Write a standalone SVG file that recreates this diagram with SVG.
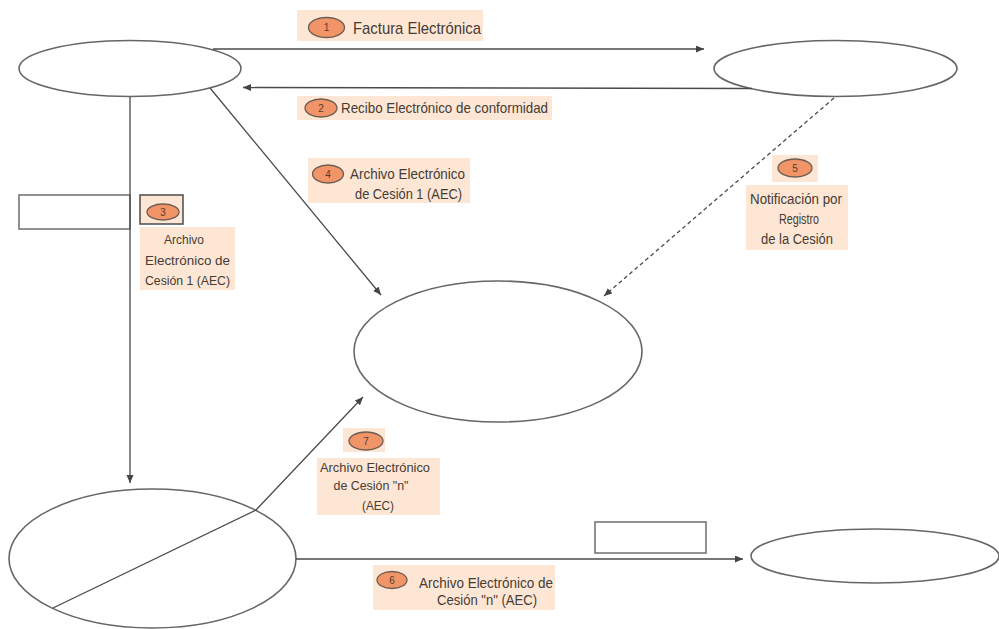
<svg xmlns="http://www.w3.org/2000/svg" width="999" height="629" viewBox="0 0 999 629">
  <defs>
    <marker id="arrow" markerUnits="userSpaceOnUse" markerWidth="9" markerHeight="8" refX="8" refY="3.5" orient="auto">
      <path d="M0,0 L8,3.5 L0,7 z" fill="#444"/>
    </marker>
    <style>
      .node { fill: #fff; stroke: #666; stroke-width: 1.6; }
      .box { fill: #fff; stroke: #777; stroke-width: 1.6; }
      .edge { fill: none; stroke: #4a4a4a; stroke-width: 1.3; marker-end: url(#arrow); }
      .dash { stroke-dasharray: 4 3; }
      .bg { fill: #fde6d4; }
      .badge { fill: #f19468; stroke: #6e5d52; stroke-width: 1.3; }
      .num { font-family: "Liberation Sans", Arial, sans-serif; font-size: 10px; fill: #5a3a2a; text-anchor: middle; }
      .lbl { font-family: "Liberation Sans Narrow", "Liberation Sans", Arial, sans-serif; fill: #453c35; }
      .mid { text-anchor: middle; }
    </style>
  </defs>
  <rect width="999" height="629" fill="#fff"/>

  <!-- participants -->
  <g id="node-a"><ellipse class="node" cx="130" cy="68.5" rx="111" ry="28"/></g>
  <g id="node-b"><ellipse class="node" cx="835.5" cy="68.5" rx="121.5" ry="28"/></g>
  <g id="node-c"><ellipse class="node" cx="498" cy="351.5" rx="144" ry="70.5"/></g>
  <g id="node-d"><ellipse class="node" cx="152.5" cy="558.5" rx="143.5" ry="69.5"/></g>
  <g id="node-e"><ellipse class="node" cx="875" cy="556" rx="124" ry="27"/></g>
  <g id="box-left"><rect class="box" x="19" y="195" width="111" height="34"/></g>
  <g id="box-bottom"><rect class="box" x="595" y="522" width="111" height="31"/></g>

  <!-- connectors -->
  <g id="connectors">
    <line class="edge" x1="213" y1="49" x2="704" y2="49"/>
    <line class="edge" x1="752" y1="88.5" x2="243" y2="87.5"/>
    <line class="edge" x1="130" y1="97" x2="130" y2="483"/>
    <line class="edge" x1="210" y1="88" x2="381" y2="295"/>
    <line class="edge dash" x1="834" y1="98" x2="604" y2="296"/>
    <line class="edge" x1="296" y1="559" x2="743" y2="559"/>
    <polyline class="edge" points="53,608 256,510 363,397"/>
  </g>

  <!-- step 1 -->
  <g id="label-1">
    <rect class="bg" x="297" y="10" width="186" height="31"/>
    <ellipse class="badge" cx="326.5" cy="27.5" rx="18" ry="10"/>
    <text class="num" x="326.5" y="31">1</text>
    <text class="lbl" x="353" y="34" font-size="17" textLength="128" lengthAdjust="spacingAndGlyphs">Factura Electrónica</text>
  </g>

  <!-- step 2 -->
  <g id="label-2">
    <rect class="bg" x="297" y="96" width="255" height="24"/>
    <ellipse class="badge" cx="321" cy="108" rx="16" ry="9"/>
    <text class="num" x="321" y="111.5">2</text>
    <text class="lbl" x="341" y="113" font-size="15" textLength="207" lengthAdjust="spacingAndGlyphs">Recibo Electrónico de conformidad</text>
  </g>

  <!-- step 3 -->
  <g id="label-3">
    <rect class="bg" x="140" y="195" width="43" height="29" stroke="#555" stroke-width="1.6"/>
    <ellipse class="badge" cx="163" cy="212" rx="16" ry="8" fill="#f47f5c"/>
    <text class="num" x="163" y="215.5">3</text>
    <rect class="bg" x="140" y="227" width="95" height="63"/>
    <text class="lbl mid" x="184" y="244" font-size="13" textLength="40" lengthAdjust="spacingAndGlyphs">Archivo</text>
    <text class="lbl mid" x="187.5" y="265" font-size="13" textLength="85" lengthAdjust="spacingAndGlyphs">Electrónico de</text>
    <text class="lbl mid" x="187.5" y="285" font-size="13" textLength="85" lengthAdjust="spacingAndGlyphs">Cesión 1 (AEC)</text>
  </g>

  <!-- step 4 -->
  <g id="label-4">
    <rect class="bg" x="308" y="158" width="162" height="45"/>
    <ellipse class="badge" cx="328" cy="174" rx="15.5" ry="9"/>
    <text class="num" x="328" y="177.5">4</text>
    <text class="lbl" x="350" y="179" font-size="14" textLength="115" lengthAdjust="spacingAndGlyphs">Archivo Electrónico</text>
    <text class="lbl" x="355" y="199" font-size="14" textLength="107" lengthAdjust="spacingAndGlyphs">de Cesión 1 (AEC)</text>
  </g>

  <!-- step 5 -->
  <g id="label-5">
    <rect class="bg" x="772" y="155" width="46" height="27"/>
    <ellipse class="badge" cx="795" cy="168" rx="17" ry="9"/>
    <text class="num" x="795" y="171.5">5</text>
    <rect class="bg" x="746" y="185" width="102" height="65"/>
    <text class="lbl mid" x="796" y="204" font-size="14" textLength="92" lengthAdjust="spacingAndGlyphs">Notificación por</text>
    <text class="lbl mid" x="799" y="224" font-size="14" textLength="40" lengthAdjust="spacingAndGlyphs">Registro</text>
    <text class="lbl mid" x="797" y="244" font-size="14" textLength="72" lengthAdjust="spacingAndGlyphs">de la Cesión</text>
  </g>

  <!-- step 6 -->
  <g id="label-6">
    <rect class="bg" x="373" y="565" width="182" height="45"/>
    <ellipse class="badge" cx="392" cy="580" rx="15" ry="8.5"/>
    <text class="num" x="392" y="583.5">6</text>
    <text class="lbl" x="419" y="588" font-size="14" textLength="134" lengthAdjust="spacingAndGlyphs">Archivo Electrónico de</text>
    <text class="lbl" x="437" y="605" font-size="14" textLength="100" lengthAdjust="spacingAndGlyphs">Cesión "n" (AEC)</text>
  </g>

  <!-- step 7 -->
  <g id="label-7">
    <rect class="bg" x="343" y="428" width="42" height="24"/>
    <ellipse class="badge" cx="366" cy="441" rx="17" ry="9"/>
    <text class="num" x="366" y="444.5">7</text>
    <rect class="bg" x="317" y="458" width="123" height="57"/>
    <text class="lbl mid" x="375" y="472" font-size="13" textLength="110" lengthAdjust="spacingAndGlyphs">Archivo Electrónico</text>
    <text class="lbl mid" x="371" y="490" font-size="13" textLength="75" lengthAdjust="spacingAndGlyphs">de Cesión "n"</text>
    <text class="lbl mid" x="378" y="510" font-size="13" textLength="32" lengthAdjust="spacingAndGlyphs">(AEC)</text>
  </g>
</svg>
